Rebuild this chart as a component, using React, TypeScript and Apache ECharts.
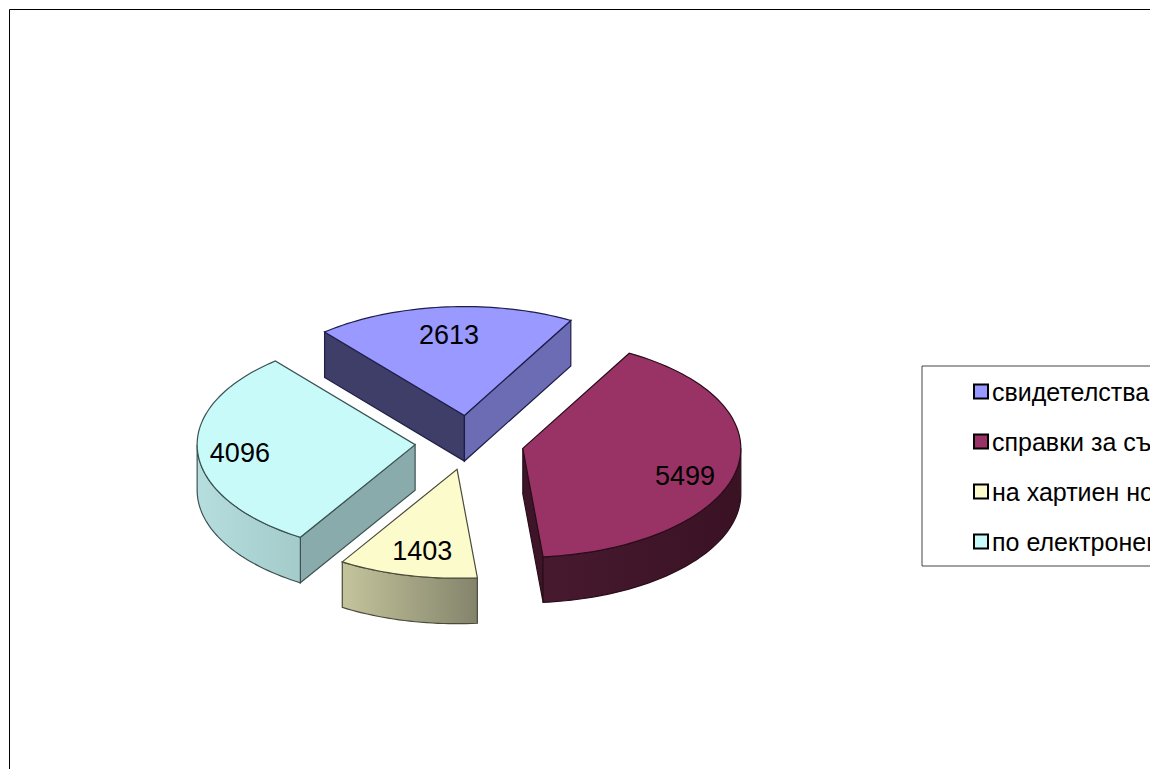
import React, { useEffect, useRef } from "react";
import * as echarts from "echarts";

const categories = ["свидетелства", "справки за съдимост", "на хартиен носител", "по електронен път"];
const values = [2613, 5499, 1403, 4096];
const topColors = ["#9999FF", "#993366", "#FBFBCB", "#C9FAFA"];
const strokeColors = ["#1E1E48", "#2A0D1A", "#4A4A3A", "#3C5252"];
const startWallColors = ["#3E3E68", "#3E1528", "#66664F", "#8AABAB"];
const endWallColors = ["#6C6CB4", "#3E1528", "#66664F", "#8AABAB"];
const outerWallStops: [string, string][] = [
  ["#6C6CB4", "#6C6CB4"],
  ["#47192F", "#3A1224"],
  ["#C4C49C", "#84846C"],
  ["#B6DEDE", "#A4CACA"],
];
const labelNudge = [[0, 2], [0, 11], [3, 1], [-10, 2]];

const FONT = '"Liberation Sans", Arial, sans-serif';
const CX = 469.5, CY = 442.7, RX = 218, RY = 109, DEPTH = 45.5, EXPLODE = 0.25;
const START_DEG = -39.9;
const total = values.reduce((a, b) => a + b, 0);

const rad = (d: number) => (d * Math.PI) / 180;

function makeRenderItem(index: number) {
  return (_params: any, api: any) => {
    const value = api.value(0);
    const before = api.value(1);
    const sum = api.value(2);
    const a0 = START_DEG + (before / sum) * 360;
    const a1 = a0 + (value / sum) * 360;
    const mid = (a0 + a1) / 2;
    const tipX = CX + EXPLODE * RX * Math.sin(rad(mid));
    const tipY = CY - EXPLODE * RY * Math.cos(rad(mid));
    const pt = (deg: number, down = 0): number[] => [
      tipX + RX * Math.sin(rad(deg)),
      tipY - RY * Math.cos(rad(deg)) + down,
    ];
    const arc = (from: number, to: number, down = 0) => {
      const pts: number[][] = [];
      const steps = Math.max(2, Math.ceil(Math.abs(to - from) / 1.5));
      for (let i = 0; i <= steps; i++) pts.push(pt(from + ((to - from) * i) / steps, down));
      return pts;
    };
    const stroke = strokeColors[index];
    const children: any[] = [];
    const radialWall = (deg: number, fill: string) => ({
      type: "polygon",
      shape: { points: [[tipX, tipY], pt(deg), pt(deg, DEPTH), [tipX, tipY + DEPTH]] },
      style: { fill, stroke, lineWidth: 1.2 },
    });
    if (Math.sin(rad(a0)) < 0) children.push(radialWall(a0, startWallColors[index]));
    if (Math.sin(rad(a1)) > 0) children.push(radialWall(a1, endWallColors[index]));
    // outer wall: the part of the rim that faces the viewer (90..270 deg)
    const w0 = Math.max(a0, 90);
    const w1 = Math.min(a1, 270);
    if (w1 > w0) {
      const [c0, c1] = outerWallStops[index];
      children.push({
        type: "polygon",
        shape: { points: [...arc(w0, w1), ...arc(w1, w0, DEPTH)] },
        style: {
          fill: {
            type: "linear", x: 0, y: 0, x2: 1, y2: 0,
            colorStops: Math.sin(rad(w0)) > Math.sin(rad(w1))
              ? [{ offset: 0, color: c0 }, { offset: 1, color: c1 }]
              : [{ offset: 0, color: c1 }, { offset: 1, color: c0 }],
          },
          stroke, lineWidth: 1.2,
        },
      });
    }
    children.push({
      type: "polygon",
      shape: { points: [[tipX, tipY], ...arc(a0, a1)] },
      style: { fill: topColors[index], stroke, lineWidth: 1.2 },
    });
    const k = 0.76;
    children.push({
      type: "text",
      x: tipX + k * RX * Math.sin(rad(mid)) + labelNudge[index][0],
      y: tipY - k * RY * Math.cos(rad(mid)) + labelNudge[index][1],
      style: {
        text: String(value), fill: "#000", font: `27px ${FONT}`,
        align: "center", verticalAlign: "middle",
      },
    });
    return { type: "group", children };
  };
}

export default function App() {
  const ref = useRef<HTMLDivElement>(null);
  useEffect(() => {
    document.body.style.margin = "0";
    document.body.style.overflow = "hidden";
    const chart = echarts.init(ref.current!, undefined, { renderer: "svg" });
    let running = 0;
    chart.setOption({
      animation: false,
      backgroundColor: "#fff",
      graphic: [{
        type: "rect", z: -10, silent: true,
        shape: { x: 9.5, y: 9.5, width: 1500, height: 1500 },
        style: { fill: "none", stroke: "#000", lineWidth: 1 },
      }],
      legend: {
        orient: "vertical",
        left: 922,
        top: 366,
        padding: [13, 300, 12, 51],
        itemWidth: 14,
        itemHeight: 14,
        itemGap: 25,
        selectedMode: false,
        backgroundColor: "#fff",
        borderColor: "#444",
        borderWidth: 1,
        borderRadius: 0,
        icon: "rect",
        itemStyle: { borderColor: "#000", borderWidth: 2 },
        textStyle: { fontFamily: FONT, fontSize: 25, color: "#000", padding: [0, 0, 0, -1] },
        data: categories,
      },
      series: categories.map((name, i) => {
        const before = running;
        running += values[i];
        return {
          type: "custom",
          name,
          coordinateSystem: "none",
          silent: true,
          itemStyle: { color: topColors[i] },
          renderItem: makeRenderItem(i),
          data: [[values[i], before, total]],
        };
      }),
    });
    return () => chart.dispose();
  }, []);
  return <div ref={ref} style={{ width: 1150, height: 769 }} />;
}
